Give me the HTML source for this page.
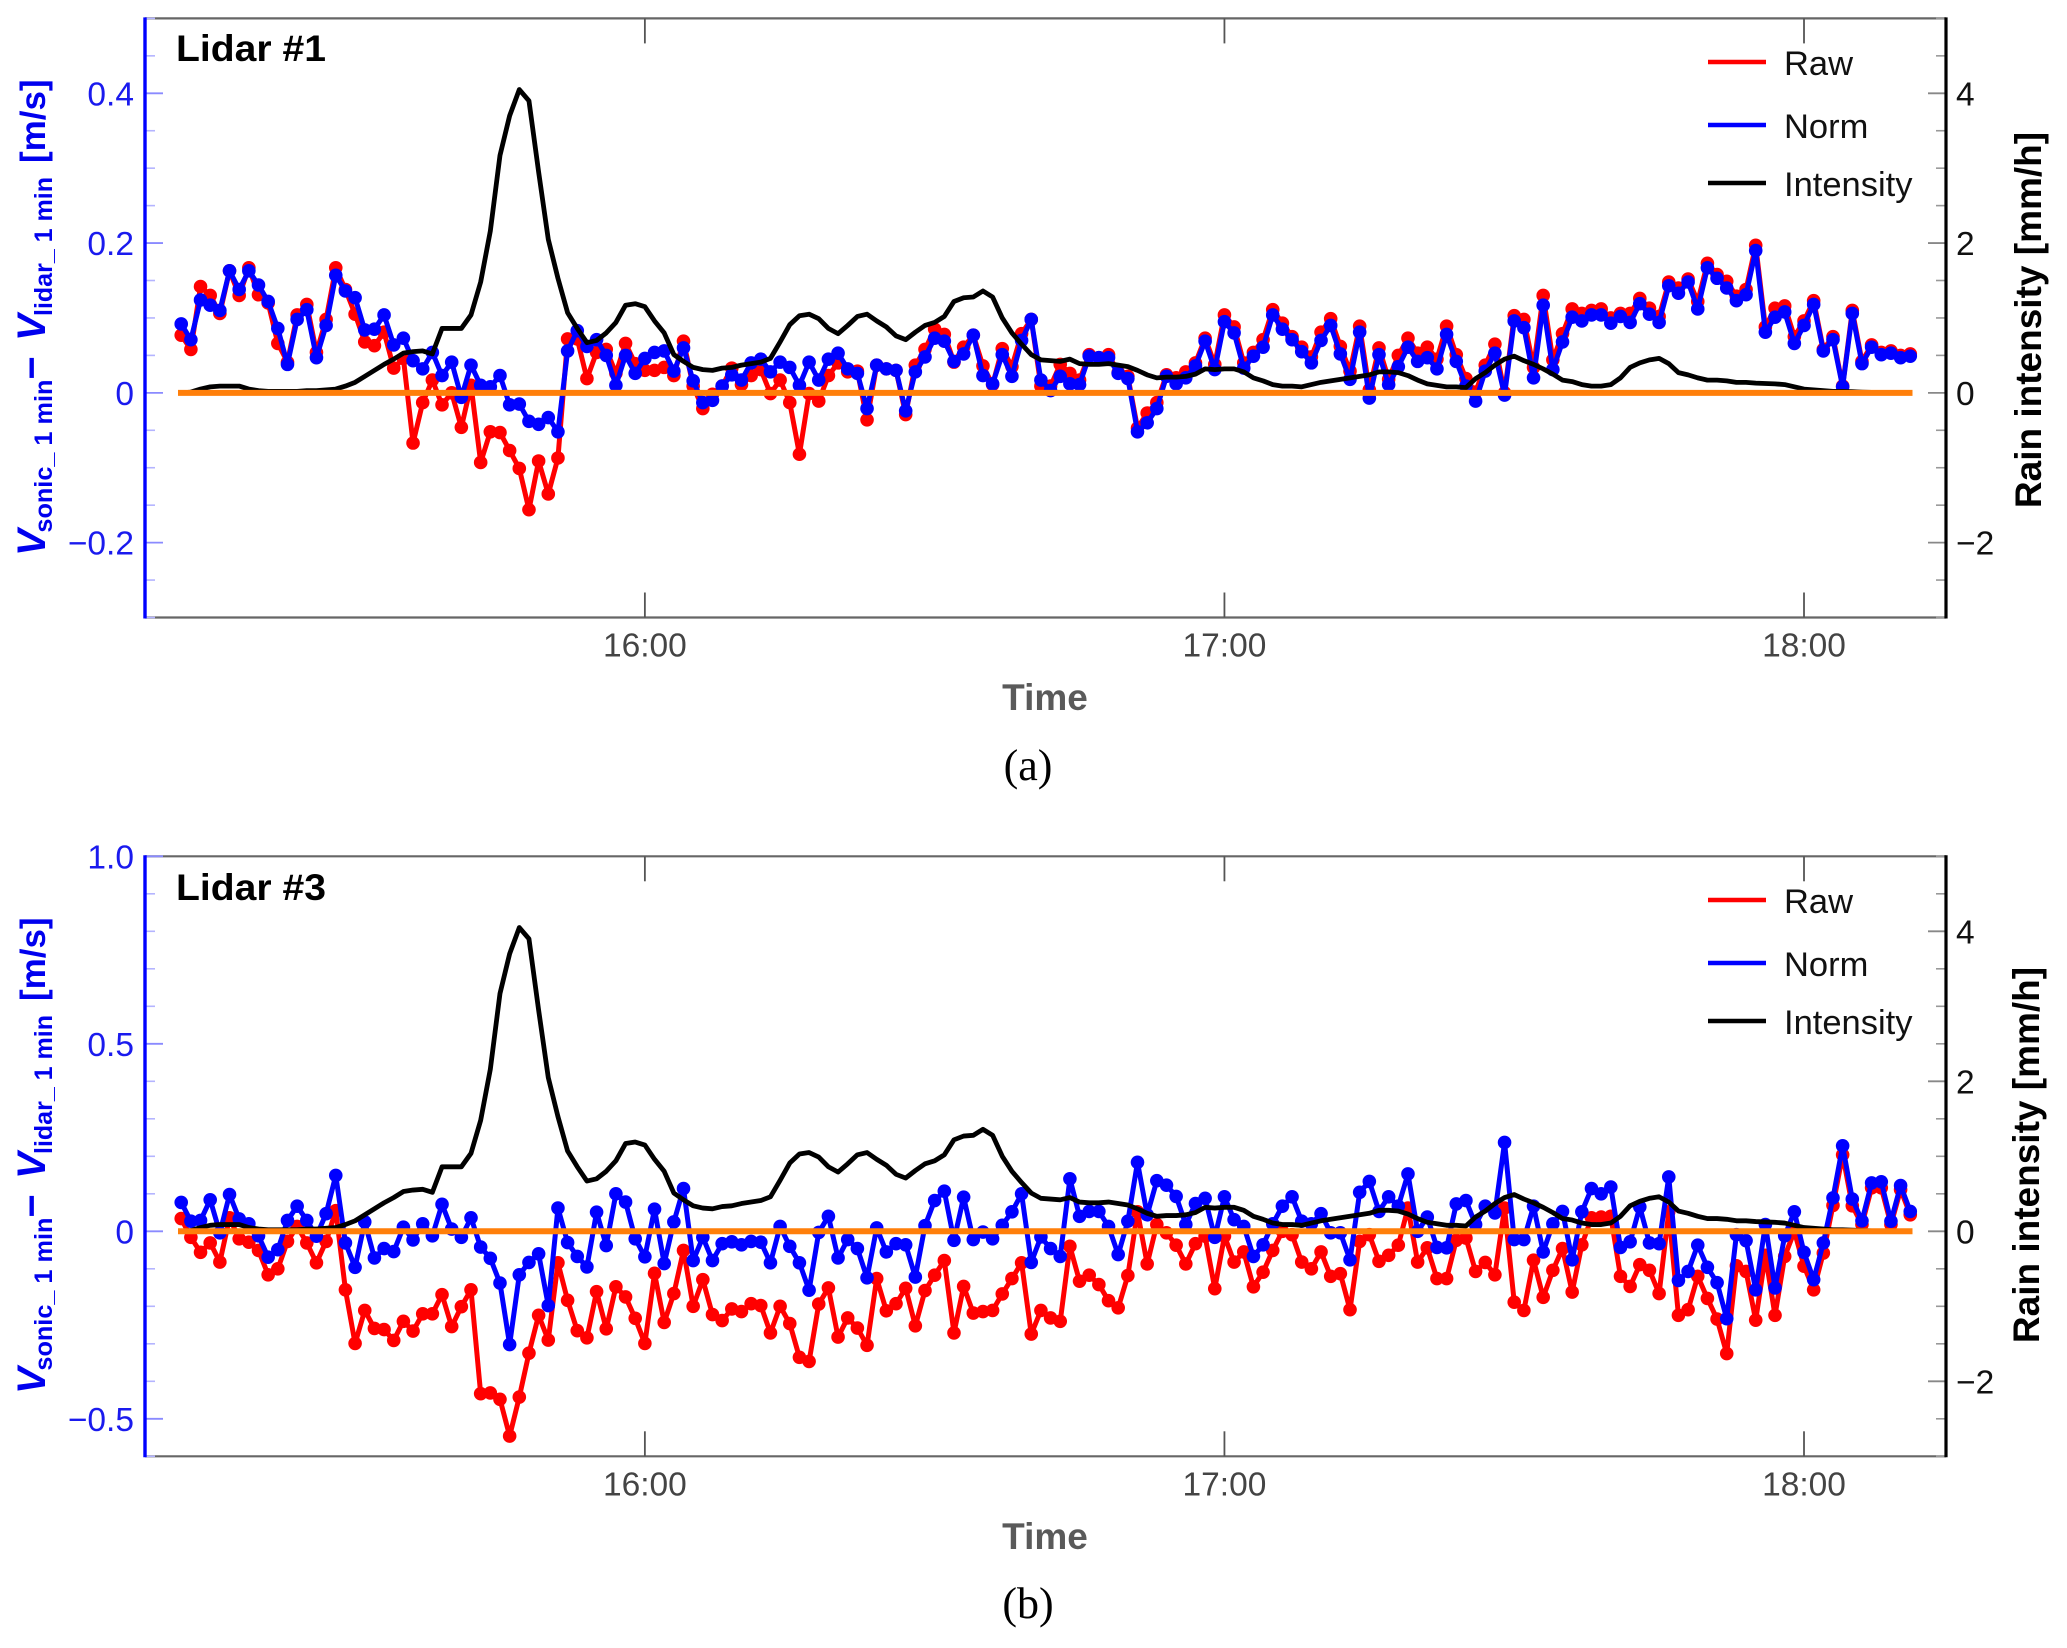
<!DOCTYPE html>
<html lang="en">
<head>
<meta charset="utf-8">
<title>Lidar wind speed difference and rain intensity</title>
<style>
html,body{margin:0;padding:0;background:#fff;}
svg{display:block;font-family:"Liberation Sans",sans-serif;}
</style>
</head>
<body>
<svg id="chart" xmlns="http://www.w3.org/2000/svg" width="2067" height="1648" viewBox="0 0 2067 1648"></svg>
<script>
const rawA=[.077,.058,.142,.130,.106,.163,.130,.167,.131,.120,.066,.041,.104,.118,.054,.098,.167,.138,.105,.068,.063,.081,.033,.046,-.067,-.013,.017,-.016,.000,-.046,.010,-.093,-.052,-.053,-.077,-.101,-.156,-.091,-.135,-.087,.072,.072,.019,.054,.058,.026,.066,.039,.030,.030,.034,.023,.069,.009,-.021,-.002,.009,.033,.011,.023,.031,-.001,.017,-.013,-.082,-.001,-.011,.023,.040,.028,.029,-.036,.037,.032,.030,-.029,.037,.058,.085,.078,.041,.061,.077,.036,.011,.059,.035,.079,.098,.009,.009,.038,.026,.017,.051,.047,.051,.027,.022,-.047,-.027,-.013,.024,.020,.028,.040,.073,.038,.104,.088,.040,.054,.071,.111,.093,.075,.061,.048,.081,.099,.062,.029,.089,.004,.060,.018,.050,.073,.053,.061,.045,.089,.051,.019,.001,.037,.065,.000,.103,.098,.034,.130,.044,.079,.112,.106,.110,.112,.100,.106,.106,.126,.113,.102,.148,.140,.152,.122,.173,.158,.149,.129,.138,.197,.088,.113,.116,.075,.096,.123,.058,.075,.009,.110,.042,.064,.054,.056,.050,.052];
const normA=[.092,.071,.124,.117,.110,.163,.138,.163,.144,.122,.086,.038,.098,.111,.047,.090,.157,.136,.127,.084,.085,.104,.064,.073,.043,.032,.054,.023,.041,-.006,.037,.010,.008,.023,-.016,-.015,-.038,-.042,-.033,-.052,.056,.083,.062,.071,.050,.010,.050,.026,.046,.054,.056,.029,.060,.016,-.013,-.010,.009,.024,.017,.040,.045,.028,.041,.034,.010,.041,.017,.045,.053,.032,.026,-.021,.037,.032,.030,-.024,.028,.048,.073,.069,.042,.052,.077,.023,.012,.051,.022,.070,.098,.017,.003,.022,.012,.011,.049,.047,.047,.026,.019,-.052,-.040,-.021,.022,.012,.020,.036,.069,.031,.095,.080,.033,.049,.061,.104,.085,.071,.055,.040,.070,.090,.052,.018,.081,-.007,.051,.011,.035,.061,.042,.047,.032,.078,.042,.009,-.011,.029,.053,-.003,.096,.087,.020,.117,.031,.068,.101,.096,.104,.104,.093,.102,.094,.119,.105,.094,.143,.133,.148,.112,.167,.153,.140,.123,.131,.190,.081,.101,.108,.066,.090,.118,.056,.071,.008,.106,.039,.061,.051,.053,.047,.049];
const rawB=[.034,-.016,-.056,-.031,-.082,.036,-.020,-.029,-.051,-.116,-.100,-.027,.013,-.031,-.084,-.027,.055,-.156,-.299,-.211,-.259,-.262,-.291,-.240,-.266,-.220,-.220,-.169,-.254,-.201,-.156,-.433,-.431,-.448,-.546,-.442,-.325,-.224,-.290,-.084,-.184,-.265,-.284,-.161,-.260,-.148,-.175,-.232,-.299,-.112,-.243,-.166,-.051,-.200,-.129,-.222,-.238,-.207,-.214,-.193,-.198,-.271,-.200,-.246,-.336,-.347,-.194,-.151,-.282,-.231,-.258,-.304,-.126,-.212,-.193,-.152,-.252,-.158,-.117,-.078,-.271,-.147,-.218,-.214,-.211,-.167,-.126,-.084,-.274,-.211,-.231,-.240,-.040,-.133,-.117,-.142,-.185,-.204,-.118,.052,-.087,.018,-.004,-.037,-.087,-.033,-.013,-.153,-.013,-.082,-.055,-.148,-.109,-.051,.000,-.009,-.082,-.100,-.055,-.120,-.113,-.209,-.027,-.009,-.080,-.064,-.037,.062,-.082,-.044,-.126,-.126,-.024,-.018,-.107,-.083,-.116,.062,-.189,-.211,-.077,-.176,-.104,-.046,-.162,-.036,.036,.038,.040,-.120,-.147,-.089,-.104,-.166,.052,-.224,-.209,-.120,-.179,-.234,-.326,-.092,-.107,-.237,-.064,-.224,-.067,.000,-.093,-.156,-.058,.069,.204,.068,.018,.116,.116,.018,.111,.044];
const normB=[.077,.027,.029,.084,-.004,.098,.033,.020,-.012,-.069,-.049,.029,.067,.029,-.013,.047,.149,-.031,-.096,.025,-.071,-.046,-.054,.011,-.023,.020,-.012,.072,.006,-.016,.036,-.042,-.072,-.138,-.302,-.116,-.083,-.060,-.198,.062,-.030,-.067,-.095,.051,-.038,.100,.078,-.020,-.068,.059,-.086,.025,.114,-.078,-.016,-.078,-.033,-.028,-.036,-.027,-.029,-.084,.013,-.040,-.084,-.157,-.003,.040,-.071,-.022,-.046,-.124,.009,-.055,-.033,-.036,-.122,.015,.082,.107,-.024,.091,-.022,-.002,-.020,.016,.052,.100,-.083,-.015,-.046,-.067,.140,.040,.053,.053,.013,-.062,.027,.184,.044,.135,.123,.093,.018,.074,.088,-.016,.092,.031,.013,-.067,-.036,.020,.067,.092,.027,.020,.047,-.004,-.004,-.076,.104,.133,.053,.092,.067,.153,.000,.038,-.043,-.044,.073,.082,.018,.067,.049,.237,-.022,-.022,.067,-.055,.020,.053,-.076,.052,.114,.100,.118,-.043,-.028,.065,-.031,-.033,.145,-.131,-.107,-.037,-.096,-.137,-.233,-.009,-.025,-.156,.018,-.151,-.012,.052,-.056,-.129,-.031,.089,.228,.086,.028,.129,.132,.027,.122,.053];
const intensity=[0,.01,.05,.08,.09,.09,.09,.05,.03,.02,.02,.02,.02,.03,.03,.04,.05,.09,.14,.22,.30,.38,.45,.53,.55,.56,.52,.86,.86,.86,1.04,1.48,2.16,3.17,3.70,4.05,3.90,2.95,2.05,1.53,1.07,.86,.67,.70,.80,.94,1.17,1.19,1.15,.96,.80,.51,.42,.34,.31,.30,.33,.34,.37,.39,.41,.46,.68,.91,1.03,1.05,.99,.86,.79,.90,1.02,1.05,.96,.88,.76,.71,.81,.90,.94,1.02,1.22,1.27,1.28,1.36,1.28,1.00,.80,.65,.51,.44,.43,.42,.45,.39,.38,.38,.39,.37,.35,.30,.24,.20,.21,.21,.22,.25,.32,.31,.32,.32,.28,.20,.16,.11,.09,.09,.08,.11,.14,.16,.18,.20,.22,.24,.28,.28,.27,.23,.17,.12,.10,.08,.08,.07,.19,.27,.37,.45,.49,.43,.38,.32,.25,.17,.15,.11,.09,.09,.11,.20,.34,.40,.44,.46,.39,.27,.24,.20,.17,.17,.16,.14,.14,.13,.125,.12,.11,.08,.05,.04,.03,.02,.02,.015,.01,.005,0,0,0,0];
const timeTickMinutes=[48,108,168];
const timeTickLabels=["16:00","17:00","18:00"];
const leftTicksA=[-0.2,0,0.2,0.4];
const leftTickLabelsA=["\u22120.2","0","0.2","0.4"];
const leftTicksB=[-0.5,0,0.5,1.0];
const leftTickLabelsB=["\u22120.5","0","0.5","1.0"];
const rightTicks=[-2,0,2,4];
const rightTickLabels=["\u22122","0","2","4"];
const legendLabels=["Raw","Norm","Intensity"];

const NS="http://www.w3.org/2000/svg";
const svg=document.getElementById("chart");
const AX_L=145,AX_R=1946;
const T_MIN=-3.75,T_MAX=182.7;
const RIGHT_DOMAIN=[-3,5];
function xScale(t){return AX_L+(t-T_MIN)*(AX_R-AX_L)/(T_MAX-T_MIN);}
function linear(domain,y0,y1){return function(v){return y0+(v-domain[0])*(y1-y0)/(domain[1]-domain[0]);};}
function make(tag,attrs,parent,text){
  const e=document.createElementNS(NS,tag);
  for(const k in attrs){e.setAttribute(k,attrs[k]);}
  if(text!==undefined){e.textContent=text;}
  parent.appendChild(e);
  return e;
}
function pathFrom(values,x,y){
  let d="";
  for(let i=0;i<values.length;i++){d+=(i?"L":"M")+x(i).toFixed(2)+" "+y(values[i]).toFixed(2);}
  return d;
}
function drawSeries(g,values,yScale,color,name){
  const line=make("path",{d:pathFrom(values,xScale,yScale),fill:"none",stroke:color,"stroke-width":5,"stroke-linejoin":"round"},g);
  
  
  for(let i=0;i<values.length;i++){
    const c=make("circle",{cx:xScale(i).toFixed(2),cy:yScale(values[i]).toFixed(2),r:6.8,fill:color},g);
    
    
  }
}
function tick(g,x1,y1,x2,y2,color,w,name){
  const t=make("line",{x1:x1,y1:y1,x2:x2,y2:y2,stroke:color,"stroke-width":w},g);
  
  
}
function label(g,x,y,str,size,fill,anchor,name,extra){
  const a=Object.assign({x:x,y:y,"font-size":size,fill:fill,"text-anchor":anchor},extra||{});
  const t=make("text",a,g,str);
  
  
  return t;
}
function vert(g,x,y,str,size,fill,anchor,name,extra){
  const a=Object.assign({transform:"rotate(-90 "+x+" "+y+")"},extra||{});
  return label(g,x,y,str,size,fill,anchor,name,a);
}

function drawPanel(cfg){
  const off=cfg.offset,top=cfg.top,bottom=cfg.bottom;
  const yL=linear(cfg.leftDomain,bottom,top);
  const yR=linear(RIGHT_DOMAIN,bottom,top);
  const g=make("g",{},svg);
  
  

  // frame
  tick(g,AX_L,top,AX_R,top,"#666",2.2,"top-frame");
  tick(g,AX_L,bottom,AX_R,bottom,"#666",2.2,"x-axis-line");

  // time ticks
  timeTickMinutes.forEach(function(m,i){
    const x=xScale(m);
    tick(g,x,top,x,top+25,"#555",1.8,"top-time-tick");
    tick(g,x,bottom,x,bottom-25,"#555",1.8,"bottom-time-tick");
    label(g,x,bottom+39,timeTickLabels[i],33.5,"#444","middle","time-tick-label");
  });

  // left minor + major ticks
  const dom=cfg.leftDomain;
  const n=Math.round((dom[1]-dom[0])/cfg.leftMinor);
  for(let k=0;k<=n;k++){
    const v=dom[0]+k*cfg.leftMinor;
    const isMajor=cfg.leftTicks.some(function(t){return Math.abs(t-v)<1e-6;});
    if(!isMajor){tick(g,AX_L,yL(v),AX_L+10,yL(v),"#b4b4ff",1.6,"left-minor-tick");}
  }
  cfg.leftTicks.forEach(function(v,i){
    tick(g,AX_L,yL(v),AX_L+18,yL(v),"#8a8aff",1.8,"left-major-tick");
    label(g,134,yL(v)+12,cfg.leftTickLabels[i],33.5,"#1a1aee","end","left-tick-label");
  });

  // right ticks
  for(let v=RIGHT_DOMAIN[0];v<=RIGHT_DOMAIN[1];v+=0.5){
    const isMajor=rightTicks.indexOf(v)>=0;
    if(!isMajor){tick(g,AX_R,yR(v),AX_R-10,yR(v),"#999",1.6,"right-minor-tick");}
  }
  rightTicks.forEach(function(v,i){
    tick(g,AX_R,yR(v),AX_R-18,yR(v),"#888",1.8,"right-major-tick");
    label(g,1956,yR(v)+12,rightTickLabels[i],33.5,"#111","start","right-tick-label");
  });

  // spines
  tick(g,AX_L,top-1,AX_L,bottom+1,"#0000ff",3.4,"left-axis-line");
  tick(g,AX_R,top-1,AX_R,bottom+1,"#000",3.2,"right-axis-line");

  // series
  drawSeries(g,cfg.raw,yL,"#ff0000","raw");
  drawSeries(g,cfg.norm,yL,"#0000ff","norm");
  const il=make("path",{d:pathFrom(intensity,xScale,yR),fill:"none",stroke:"#000","stroke-width":4.8,"stroke-linejoin":"round"},g);
  
  
  const zero=make("line",{x1:178,y1:yL(0),x2:1912.5,y2:yL(0),stroke:"#ff7f0a","stroke-width":6},g);
  
  

  // panel title
  label(g,176,61+off+cfg.titleDy,cfg.title,37,"#000","start","panel-title",{"font-weight":"bold",textLength:150,lengthAdjust:"spacingAndGlyphs"});

  // legend
  const legendColors=["#ff0000","#0000ff","#000"];
  const legendLineY=[62,125,183];
  const legendTextY=[75,138,196];
  legendLabels.forEach(function(s,i){
    tick(g,1708,legendLineY[i]+off,1766,legendLineY[i]+off,legendColors[i],4.6,"legend-line-"+s.toLowerCase());
    label(g,1784,legendTextY[i]+off,s,34.5,"#111","start","legend-label-"+s.toLowerCase());
  });

  // x title and caption
  label(g,1045,710+off+cfg.titleDy,"Time",37,"#5a5a5a","middle","x-axis-title",{"font-weight":"bold"});
  label(g,1028,780+off,cfg.caption,44,"#000","middle","panel-caption",{"font-family":'"Liberation Serif",serif'});

  // right title
  vert(g,2041+cfg.rightTitleDx,320+off-cfg.rightTitleUp,"Rain intensity [mm/h]",37,"#000","middle","right-axis-title",{"font-weight":"bold"});

  // left title
  const B="#0000ee";
  const bold={"font-weight":"bold"};
  vert(g,45,556+off,"V",40,B,"start","left-title-v-sonic",{"font-weight":"bold","font-style":"italic"});
  vert(g,52,532.6+off,"sonic_ 1 min",25,B,"start","left-title-sonic-subscript",{"font-weight":"bold",textLength:153,lengthAdjust:"spacingAndGlyphs"});
  vert(g,45,379.5+off,"\u2212",40,B,"start","left-title-minus",bold);
  vert(g,45,341+off,"V",40,B,"start","left-title-v-lidar",{"font-weight":"bold","font-style":"italic"});
  vert(g,52,316+off,"lidar_ 1 min",25,B,"start","left-title-lidar-subscript",{"font-weight":"bold",textLength:139,lengthAdjust:"spacingAndGlyphs"});
  vert(g,45,163+off,"[m/s]",35,B,"start","left-title-units",bold);
}

drawPanel({name:"panel-lidar-1",title:"Lidar #1",caption:"(a)",offset:0,top:18.4,bottom:617.5,leftDomain:[-0.3,0.5],leftMinor:0.05,leftTicks:leftTicksA,leftTickLabels:leftTickLabelsA,raw:rawA,norm:normA,rightTitleDx:0,rightTitleUp:0,titleDy:0});
drawPanel({name:"panel-lidar-3",title:"Lidar #3",caption:"(b)",offset:838,top:856.3,bottom:1456.3,leftDomain:[-0.6,1.0],leftMinor:0.1,leftTicks:leftTicksB,leftTickLabels:leftTickLabelsB,raw:rawB,norm:normB,rightTitleDx:-2,rightTitleUp:3,titleDy:1});
</script>
</body>
</html>
